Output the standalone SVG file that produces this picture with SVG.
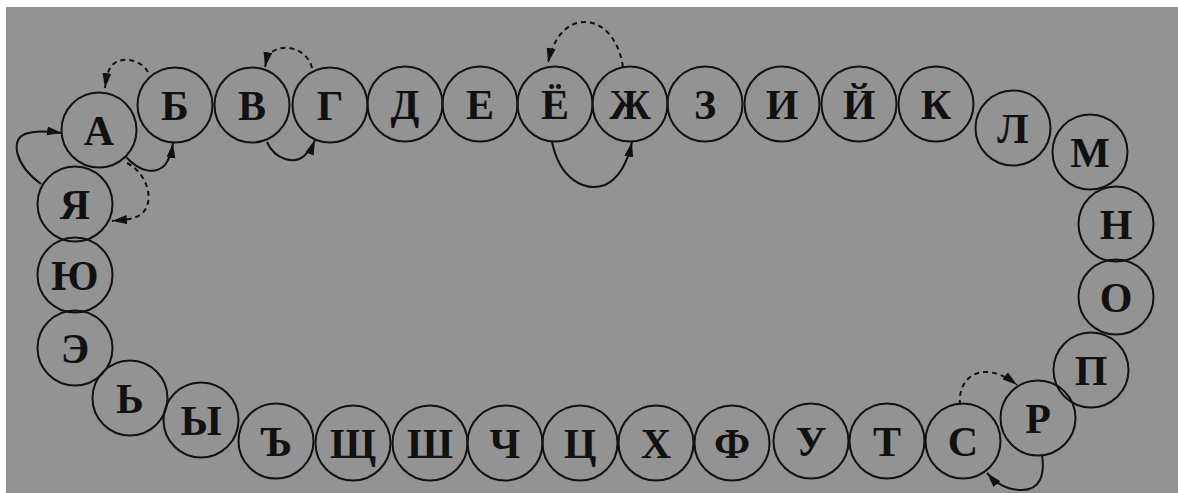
<svg xmlns="http://www.w3.org/2000/svg" width="1178" height="493" viewBox="0 0 1178 493">
<style>
.n circle{fill:none;stroke:#111;stroke-width:2}
.n text{font-family:"Liberation Serif","DejaVu Serif",serif;font-size:42px;font-weight:bold;fill:#111;text-anchor:middle}
.c path{fill:none;stroke:#111;stroke-width:2}
.c .d{stroke-dasharray:5,4}
</style>
<defs>
<marker id="ah" markerUnits="userSpaceOnUse" markerWidth="16" markerHeight="10" refX="15" refY="4.5" orient="auto">
<path d="M0,0 L15,4.5 L0,9 z" fill="#111"/>
</marker>
</defs>
<rect x="0" y="0" width="1178" height="493" fill="#fff"/>
<rect x="6" y="7" width="1172" height="486" fill="#939393"/>
<g class="c" id="connectors">
<path d="M41,184 C15,165 10,140 25,134 C35,130 48,131 62,133" marker-end="url(#ah)"/>
<path d="M126,157 C140,172 155,175 165,165 C170,158 172,150 173,143" marker-end="url(#ah)"/>
<path class="d" d="M148,72 C140,58 118,55 110,68 C107,74 106,80 105,88" marker-end="url(#ah)"/>
<path class="d" d="M127,163 C150,175 155,205 140,215 C132,220 122,220 112,221" marker-end="url(#ah)"/>
<path d="M267,142 C275,160 295,165 305,155 C310,150 313,145 315,140" marker-end="url(#ah)"/>
<path class="d" d="M312,68 C308,50 285,42 272,52 C268,56 266,62 265,67" marker-end="url(#ah)"/>
<path d="M552,142 C560,180 585,192 605,185 C620,178 628,160 632,142" marker-end="url(#ah)"/>
<path class="d" d="M623,67 C618,35 600,22 585,22 C565,22 553,40 548,63" marker-end="url(#ah)"/>
<path class="d" d="M960,405 C958,385 970,372 985,372 C998,372 1008,378 1017,385" marker-end="url(#ah)"/>
<path d="M1042,455 C1045,475 1040,490 1022,490 C1005,490 995,482 987,473" marker-end="url(#ah)"/>
</g>
<g class="n" id="n-A"><circle cx="99" cy="130" r="37.5"/><text x="99" y="145">А</text></g>
<g class="n" id="n-B"><circle cx="175" cy="105" r="37.5"/><text x="175" y="120">Б</text></g>
<g class="n" id="n-V"><circle cx="252" cy="105" r="37.5"/><text x="252" y="120">В</text></g>
<g class="n" id="n-G"><circle cx="330" cy="105" r="37.5"/><text x="330" y="120">Г</text></g>
<g class="n" id="n-D"><circle cx="405" cy="104" r="37.5"/><text x="405" y="119">Д</text></g>
<g class="n" id="n-E"><circle cx="480" cy="104" r="37.5"/><text x="480" y="119">Е</text></g>
<g class="n" id="n-Yo"><circle cx="555" cy="104" r="37.5"/><text x="555" y="119">Ё</text></g>
<g class="n" id="n-Zh"><circle cx="630" cy="104" r="37.5"/><text x="630" y="119">Ж</text></g>
<g class="n" id="n-Z"><circle cx="705" cy="104" r="37.5"/><text x="705" y="119">З</text></g>
<g class="n" id="n-I"><circle cx="782" cy="104" r="37.5"/><text x="782" y="119">И</text></g>
<g class="n" id="n-Yi"><circle cx="859" cy="104" r="37.5"/><text x="859" y="119">Й</text></g>
<g class="n" id="n-K"><circle cx="936" cy="104" r="37.5"/><text x="936" y="119">К</text></g>
<g class="n" id="n-L"><circle cx="1013" cy="128" r="37.5"/><text x="1013" y="143">Л</text></g>
<g class="n" id="n-M"><circle cx="1090" cy="152" r="37.5"/><text x="1090" y="167">М</text></g>
<g class="n" id="n-N"><circle cx="1116" cy="224" r="37.5"/><text x="1116" y="239">Н</text></g>
<g class="n" id="n-O"><circle cx="1116" cy="297" r="37.5"/><text x="1116" y="312">О</text></g>
<g class="n" id="n-P"><circle cx="1091" cy="370" r="37.5"/><text x="1091" y="385">П</text></g>
<g class="n" id="n-R"><circle cx="1038" cy="418" r="37.5"/><text x="1038" y="433">Р</text></g>
<g class="n" id="n-S"><circle cx="963" cy="441" r="37.5"/><text x="963" y="456">С</text></g>
<g class="n" id="n-T"><circle cx="887" cy="441" r="37.5"/><text x="887" y="456">Т</text></g>
<g class="n" id="n-U"><circle cx="811" cy="441" r="37.5"/><text x="811" y="456">У</text></g>
<g class="n" id="n-F"><circle cx="732" cy="443" r="37.5"/><text x="732" y="458">Ф</text></g>
<g class="n" id="n-Kh"><circle cx="656" cy="443" r="37.5"/><text x="656" y="458">Х</text></g>
<g class="n" id="n-Ts"><circle cx="580" cy="443" r="37.5"/><text x="580" y="458">Ц</text></g>
<g class="n" id="n-Ch"><circle cx="505" cy="443" r="37.5"/><text x="505" y="458">Ч</text></g>
<g class="n" id="n-Sh"><circle cx="430" cy="443" r="37.5"/><text x="430" y="458">Ш</text></g>
<g class="n" id="n-Shch"><circle cx="353" cy="443" r="37.5"/><text x="353" y="458">Щ</text></g>
<g class="n" id="n-Hard"><circle cx="276" cy="441" r="37.5"/><text x="276" y="456">Ъ</text></g>
<g class="n" id="n-Y"><circle cx="201" cy="420" r="37.5"/><text x="201" y="435">Ы</text></g>
<g class="n" id="n-Soft"><circle cx="130" cy="398" r="37.5"/><text x="130" y="413">Ь</text></g>
<g class="n" id="n-Ee"><circle cx="75" cy="348" r="37.5"/><text x="75" y="363">Э</text></g>
<g class="n" id="n-Yu"><circle cx="75" cy="275" r="37.5"/><text x="75" y="290">Ю</text></g>
<g class="n" id="n-Ya"><circle cx="75" cy="204" r="37.5"/><text x="75" y="219">Я</text></g>
</svg>
